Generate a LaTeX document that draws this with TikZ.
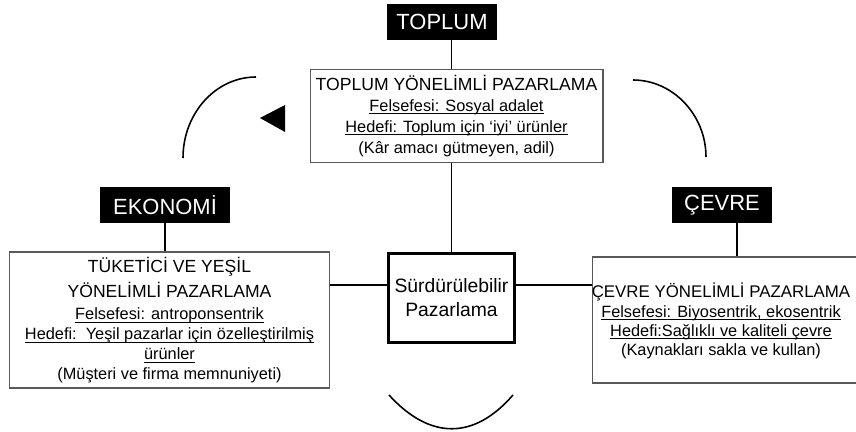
\documentclass[tikz,border=0pt]{standalone}
\usepackage{fontspec}
\setmainfont{Liberation Sans}
\newcommand{\thinrule}{.6pt}
\newcommand{\headsize}{\fontsize{10}{12}\selectfont}
\newcommand{\uln}[1]{\setbox0\hbox{#1}\rlap{\rule[-1.7pt]{\wd0}{.55pt}}\box0}

\begin{document}
\begin{tikzpicture}[x=.02cm,y=-.02cm,
    pillar/.style={fill=black,text=white,inner sep=0pt,
      font=\fontsize{12.5}{14}\selectfont,minimum height=.71cm},
    infobox/.style={draw=black!65,line width=\thinrule,align=center,inner sep=0pt},
    link/.style={line width=.8pt},
    bow/.style={line width=.9pt}]
        \clip (0,0) rectangle (856,432);

        \node (toplum) at (442,22)  [pillar, minimum width=2.22cm] {TOPLUM};
        \node (eko)    at (165,205) [pillar, minimum width=2.6cm] {EKONOMİ};
        \node (cev)    at (722,205) [pillar, minimum width=2.02cm] {ÇEVRE};

        \node (tpbox) at (456.5,116) [infobox, minimum width=5.86cm, minimum height=1.86cm,
              font=\fontsize{9.3}{12}\selectfont]
              {{\headsize TOPLUM YÖNELİMLİ PAZARLAMA}\\
               \uln{Felsefesi: Sosyal adalet}\\
               \uln{Hedefi: Toplum için ‘iyi’ ürünler}\\
               (Kâr amacı gütmeyen, adil)};

        \node (lbox) at (169.5,320) [infobox, minimum width=6.42cm, minimum height=2.72cm,
              font=\fontsize{9.3}{11.3}\selectfont]
              {{\headsize TÜKETİCİ VE YEŞİL}\\[3pt]
               {\headsize YÖNELİMLİ PAZARLAMA}\\[1.5pt]
               \uln{Felsefesi: antroponsentrik}\\
               \uln{Hedefi:\ \ Yeşil pazarlar için özelleştirilmiş}\\
               \uln{ürünler}\\
               (Müşteri ve firma memnuniyeti)};

        \node (rbox) at (731,320) [infobox, minimum width=5.56cm, minimum height=2.52cm] {};
        \node (rtext) at (721,321) [align=center, font=\fontsize{9.3}{10.9}\selectfont]
              {{\fontsize{9.6}{12}\selectfont ÇEVRE YÖNELİMLİ PAZARLAMA}\\
               \uln{Felsefesi: Biyosentrik, ekosentrik}\\
               \uln{Hedefi:Sağlıklı ve kaliteli çevre}\\
               (Kaynakları sakla ve kullan)};

        \node (sb) at (451.5,298) [draw, line width=1.7pt, align=center, inner sep=0pt,
              minimum width=2.52cm, minimum height=1.78cm, font=\fontsize{11}{13.6}\selectfont]
              {Sürdürülebilir\\Pazarlama};

        \coordinate (mid) at (0,285);
        \draw[link] (toplum.south -| sb.north) -- (tpbox.north -| sb.north);
        \draw[link] (tpbox.south -| sb.north) -- (sb.north);
        \draw[link] (eko.south) -- (eko.south |- lbox.north);
        \draw[link] ([xshift=.3cm]cev.south) -- ([xshift=.3cm]cev.south |- rbox.north);
        \draw[link] (lbox.east |- mid) -- (sb.west |- mid);
        \draw[link] (sb.east |- mid) -- (rbox.west |- mid);

        \draw[bow] (256,77) .. controls (216,77) and (183,113) .. (183,158);
        \draw[bow] (633,80) .. controls (673,80) and (706,115) .. (706,157);
        \draw[bow] (389,395) .. controls (430,440) and (474,440) .. (513,395);
        \fill (260,118) -- (285,105) -- (285,132) -- cycle;
\end{tikzpicture}
\end{document}
